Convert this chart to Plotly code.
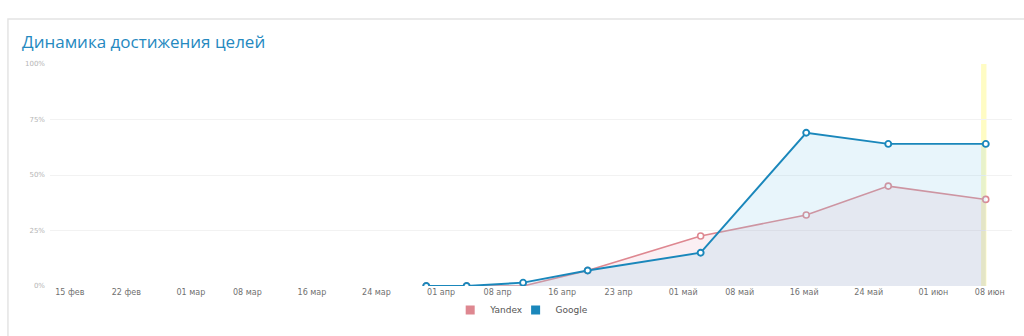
import plotly.graph_objects as go

# ---- data ----
dates = ["2016-03-30 04:00", "2016-04-04 04:00", "2016-04-11 04:00", "2016-04-19 04:00",
         "2016-05-03 04:00", "2016-05-16 06:00", "2016-05-26 10:00", "2016-06-07 12:00"]
yandex = [0, 0, 0, 7, 22.5, 32, 45, 39]
google = [0, 0, 1.5, 7, 15, 69, 64, 64]

tick_dates = ["2016-02-15", "2016-02-22", "2016-03-01", "2016-03-08", "2016-03-16",
              "2016-03-24", "2016-04-01", "2016-04-08", "2016-04-16", "2016-04-23",
              "2016-05-01", "2016-05-08", "2016-05-16", "2016-05-24", "2016-06-01",
              "2016-06-08"]
tick_labels = ["15 фев", "22 фев", "01 мар", "08 мар", "16 мар", "24 мар", "01 апр",
               "08 апр", "16 апр", "23 апр", "01 май", "08 май", "16 май", "24 май",
               "01 июн", "08 июн"]
y_ticks = [0, 25, 50, 75, 100]
y_labels = ["0%", "25%", "50%", "75%", "100%"]
highlight_start = "2016-06-06 22:00"
highlight_end = "2016-06-07 14:00"
x_range = ["2016-02-12 13:00", "2016-06-10 18:00"]

YANDEX_C = "#de8790"
GOOGLE_C = "#1a87bb"

fig = go.Figure()

# highlighted day band (drawn behind data)
fig.add_shape(type="rect", xref="x", yref="paper", x0=highlight_start, x1=highlight_end,
              y0=0, y1=1, fillcolor="rgba(255,252,190,0.9)", line=dict(width=0), layer="below")

fig.add_trace(go.Scatter(
    x=dates, y=yandex, mode="lines+markers", name="Yandex", showlegend=False,
    line=dict(color=YANDEX_C, width=1.6),
    marker=dict(size=6, color="white", line=dict(color=YANDEX_C, width=1.6)),
    fill="tozeroy", fillcolor="rgba(225,130,160,0.13)", hoverinfo="x+y"))

fig.add_trace(go.Scatter(
    x=dates, y=google, mode="lines+markers", name="Google", showlegend=False,
    line=dict(color=GOOGLE_C, width=1.9),
    marker=dict(size=6, color="white", line=dict(color=GOOGLE_C, width=1.9)),
    fill="tozeroy", fillcolor="rgba(140,205,235,0.2)", hoverinfo="x+y"))

# legend proxies (square swatches), each in its own legend box
fig.add_trace(go.Scatter(x=[None], y=[None], mode="markers", name="Yandex", legend="legend",
                         marker=dict(symbol="square", size=9, color=YANDEX_C)))
fig.add_trace(go.Scatter(x=[None], y=[None], mode="markers", name="Google", legend="legend2",
                         marker=dict(symbol="square", size=9, color=GOOGLE_C)))

# card border
fig.add_shape(type="rect", xref="paper", yref="paper",
              x0=-0.0437, x1=1.015, y0=-0.4, y1=1.2027,
              line=dict(color="#e4e4e4", width=1.5), fillcolor="rgba(0,0,0,0)", layer="below")

legend_style = dict(orientation="h", yanchor="middle", y=-0.108, xanchor="left",
                    font=dict(family="DejaVu Sans", size=9, color="#555"),
                    bgcolor="rgba(0,0,0,0)", itemwidth=30)

fig.update_layout(
    width=1024, height=336,
    margin=dict(l=50, r=12, t=64, b=50),
    paper_bgcolor="white", plot_bgcolor="white",
    font=dict(family="DejaVu Sans", size=8, color="#666"),
    title=dict(text="Динамика достижения целей", x=22 / 1024, xanchor="left",
               y=1 - 42 / 336, yanchor="middle",
               font=dict(family="Open Sans", size=17, color="#2589bf")),
    xaxis=dict(type="date", range=x_range, tickmode="array", tickvals=tick_dates,
               ticktext=tick_labels, showgrid=False, zeroline=False, showline=False,
               ticks="", tickfont=dict(family="DejaVu Sans", size=8, color="#707070"),
               fixedrange=True),
    yaxis=dict(range=[0, 100], tickmode="array", tickvals=y_ticks, ticktext=y_labels,
               showgrid=True, gridcolor="#f2f2f2", gridwidth=1, zeroline=False,
               showline=False, ticks="", ticklabelstandoff=4,
               tickfont=dict(family="DejaVu Sans", size=7, color="#b5b5b5"),
               fixedrange=True),
    legend=dict(legend_style, x=0.416),
    legend2=dict(legend_style, x=0.484),
    showlegend=True,
)

fig.write_html("out.html")
